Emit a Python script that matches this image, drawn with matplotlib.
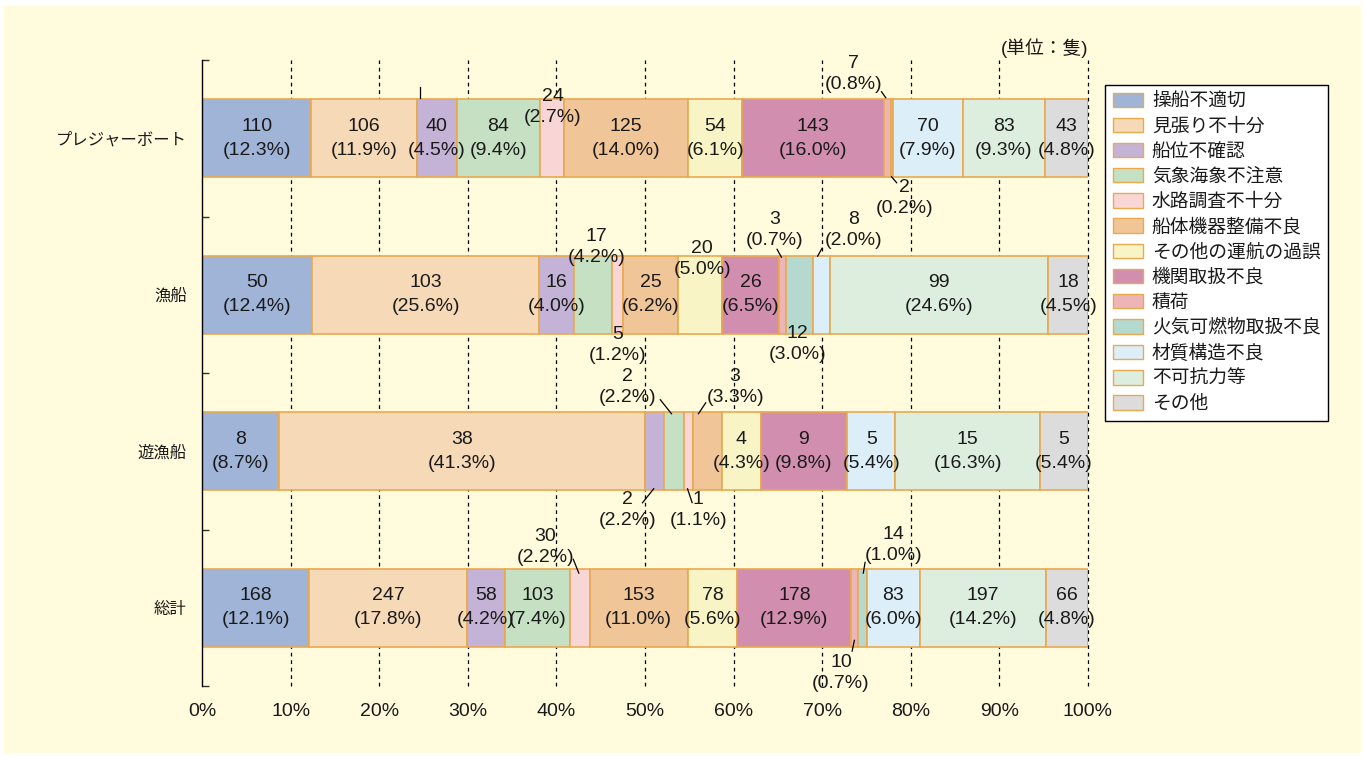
import matplotlib
matplotlib.use('Agg')
import matplotlib.pyplot as plt
from matplotlib.patches import Rectangle, Patch

plt.rcParams['font.family'] = ['Liberation Sans', 'Noto Sans CJK JP']

# ---------------- data ----------------
categories = ['プレジャーボート', '漁船', '遊漁船', '総計']
causes = ['操船不適切', '見張り不十分', '船位不確認', '気象海象不注意', '水路調査不十分',
          '船体機器整備不良', 'その他の運航の過誤', '機関取扱不良', '積荷',
          '火気可燃物取扱不良', '材質構造不良', '不可抗力等', 'その他']
colors = ['#9FB4D6', '#F6DAB8', '#C4B3D6', '#C5E0C2', '#F8D6D6', '#F0C598', '#F8F4C6',
          '#D18EAE', '#EEB5B7', '#B5D9CE', '#DCEEF8', '#DDEEDF', '#DCDCDC']
pleasure = [110, 106, 40, 84, 24, 125, 54, 143, 7, 2, 70, 83, 43]
fishing = [50, 103, 16, 17, 5, 25, 20, 26, 3, 12, 8, 99, 18]
yugyo = [8, 38, 2, 2, 1, 3, 4, 9, 0, 0, 5, 15, 5]
total = [168, 247, 58, 103, 30, 153, 78, 178, 10, 14, 83, 197, 66]
rows = [pleasure, fishing, yugyo, total]
x_ticks = [0, 10, 20, 30, 40, 50, 60, 70, 80, 90, 100]
x_tick_labels = [f'{t}%' for t in x_ticks]
unit_label = '(単位：隻)'

# ---------------- layout (label placement, pixel offsets from segment centre) ----------------
W, H = 1365, 758
AX_L, AX_R, AX_T, AX_B = 202, 1088, 60, 686
PX_PER_PCT = (AX_R - AX_L) / 100.0
PX_PER_ROW = (AX_B - AX_T) / 4.0

outside = {
    (0, 4): (1, -31.5, None),
    (0, 8): (-34.5, -64.5, ((-6.5, -47), (-1.5, -40))),
    (0, 9): (12, 60, ((-1, 38), (5, 45))),
    (1, 3): (3, -47.5, None),
    (1, 4): (0, 50, None),
    (1, 6): (2, -35.5, None),
    (1, 8): (-8, -64.5, ((-6, -46), (-1, -37))),
    (1, 9): (-2, 49.5, None),
    (1, 10): (32, -64.5, ((1, -47), (-4, -38))),
    (2, 2): (-27.5, 59, ((-12.5, 52), (-0.5, 37))),
    (2, 3): (-46, -64.5, ((-14, -52), (-2, -37))),
    (2, 4): (10, 59, ((-1, 37), (4, 52))),
    (2, 5): (27.5, -64, ((-1.5, -49), (-9.5, -37))),
    (3, 4): (-35, -61, ((-7, -49), (-1, -34))),
    (3, 8): (-13.5, 65, ((0, 32), (-2.5, 44))),
    (3, 9): (31, -63, ((3, -46), (1, -34))),
}
extra_leaders = [(0, 2, ((-16.6, -51), (-16.6, -40)))]

EDGE = '#E9A94F'
TXT = '#1a1a1a'

fig = plt.figure(figsize=(W / 100, H / 100), dpi=100, facecolor='white')
fig.patches.append(Rectangle((4 / W, 5 / H), (W - 8) / W, (H - 11) / H,
                             transform=fig.transFigure, facecolor='#FFFBDC',
                             edgecolor='none', zorder=-10))
ax = fig.add_axes([AX_L / W, (H - AX_B) / H, (AX_R - AX_L) / W, (AX_B - AX_T) / H])
ax.set_facecolor('none')
ax.set_xlim(0, 100)
ax.set_ylim(3.5, -0.5)

for t in x_ticks[1:]:
    ax.axvline(t, color='black', lw=0.9, ls=(0, (3, 3)), zorder=0, clip_on=False)


def px(dx, dy):
    return dx / PX_PER_PCT, dy / PX_PER_ROW


for r, vals in enumerate(rows):
    tot = sum(vals)
    left = 0.0
    for k, v in enumerate(vals):
        w = v / tot * 100
        if v > 0:
            ax.barh(r, w, left=left, height=0.5, color=colors[k], edgecolor=EDGE,
                    linewidth=1.2, zorder=2)
            cx = left + w / 2
            label = f'{v}\n({w:.1f}%)'
            if (r, k) in outside:
                dx, dy, lead = outside[(r, k)]
                ox, oy = px(dx, dy)
                ax.text(cx + ox, r + oy, label, ha='center', va='center', fontsize=14,
                        color=TXT, linespacing=1.27, zorder=4)
                if lead:
                    (x1, y1), (x2, y2) = lead
                    a = px(x1, y1)
                    b = px(x2, y2)
                    ax.plot([cx + a[0], cx + b[0]], [r + a[1], r + b[1]], color='black',
                            lw=0.9, zorder=4, solid_capstyle='butt')
            else:
                ax.text(cx, r, label, ha='center', va='center', fontsize=14, color=TXT,
                        linespacing=1.52, zorder=4)
        left += w

for r, k, ((x1, y1), (x2, y2)) in extra_leaders:
    vals = rows[r]
    tot = sum(vals)
    left = sum(vals[:k]) / tot * 100
    cx = left + vals[k] / tot * 100 / 2
    a = px(x1, y1)
    b = px(x2, y2)
    ax.plot([cx + a[0], cx + b[0]], [r + a[1], r + b[1]], color='black', lw=0.9, zorder=4)

# axes styling
for s in ['top', 'right', 'bottom']:
    ax.spines[s].set_visible(False)
ax.spines['left'].set_linewidth(1.0)
ax.set_yticks([-0.5, 0.5, 1.5, 2.5, 3.5])
ax.set_yticklabels([])
ax.tick_params(axis='y', which='major', direction='in', length=5, width=1, color='#333333')
ax.set_yticks(range(len(categories)), minor=True)
ax.set_yticklabels(categories, minor=True, fontsize=11.8, color=TXT)
ax.tick_params(axis='y', which='minor', length=0, pad=11)
ax.set_xticks(x_ticks)
ax.set_xticklabels(x_tick_labels, fontsize=14, color=TXT)
ax.tick_params(axis='x', length=0, pad=12)

fig.text(AX_R / W, 1 - 48 / H, unit_label, ha='right', va='center', fontsize=13.5, color=TXT)

handles = [Patch(facecolor=c, edgecolor=EDGE, linewidth=1.0) for c in colors]
leg = fig.legend(handles, causes, loc='upper left', bbox_to_anchor=(1105 / W, 1 - 85 / H),
                 borderaxespad=0, fontsize=13.5, frameon=True, fancybox=False,
                 edgecolor='black', framealpha=1, handlelength=1.6, handleheight=0.8,
                 handletextpad=0.5, labelspacing=0.4, borderpad=0.4)
leg.get_frame().set_linewidth(1.0)
for t in leg.get_texts():
    t.set_color(TXT)

fig.savefig('out.png', dpi=100, facecolor=fig.get_facecolor())
